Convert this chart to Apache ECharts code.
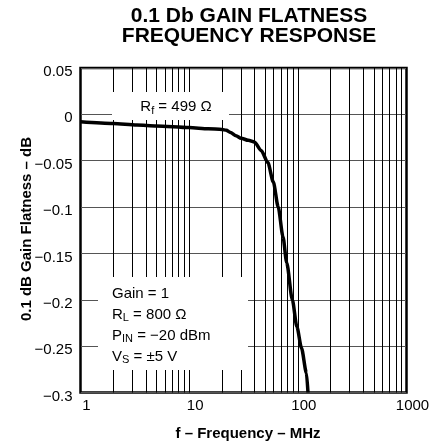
<!DOCTYPE html>
<html>
<head>
<meta charset="utf-8">
<script src="https://cdn.jsdelivr.net/npm/echarts@6/dist/echarts.min.js"></script>
<style>
html,body{margin:0;padding:0;background:#fff;}
#chart{width:440px;height:446px;}
</style>
</head>
<body>
<div id="chart"></div>
<script>
// ---- data ----
const freqMHz = [1, 2, 3.3, 5, 10, 15, 20, 22, 24, 27, 30, 35, 40, 46, 53, 59.5, 66, 73, 79, 89, 98, 108, 120, 124];
const gainDb  = [-0.008, -0.0098, -0.0115, -0.0125, -0.0143, -0.0155, -0.0163, -0.0172, -0.0195, -0.023, -0.0257, -0.028, -0.030, -0.039, -0.052, -0.073, -0.100, -0.132, -0.160, -0.200, -0.229, -0.252, -0.279, -0.300];
const xTicks = [1, 10, 100, 1000];
const xMinorGrid = [2, 3, 4, 5, 6, 7, 8, 9, 20, 30, 40, 50, 60, 70, 80, 90, 200, 300, 400, 500, 600, 700, 800, 900];
const yTicks = [0.05, 0, -0.05, -0.1, -0.15, -0.2, -0.25, -0.3];

const FONT = 'Liberation Sans, Arial, sans-serif';
const rich = {
  n: { fontFamily: FONT, fontSize: 15, fill: '#000', color: '#000' },
  s: { fontFamily: FONT, fontSize: 11, fill: '#000', color: '#000', padding: [7, 0, 0, 0] }
};

const chart = echarts.init(document.getElementById('chart'), null, { renderer: 'canvas' });
chart.setOption({
  animation: false,
  backgroundColor: '#fff',
  title: {
    text: '0.1 Db GAIN FLATNESS\nFREQUENCY RESPONSE',
    left: 249, top: 6, textAlign: 'center', padding: 0,
    textStyle: { fontFamily: FONT, fontSize: 21, fontWeight: 'bold', color: '#000', lineHeight: 20 }
  },
  grid: {
    left: 80.5, right: 33.5, top: 68, bottom: 52.7,
    show: true, borderColor: '#000', borderWidth: 2.5, backgroundColor: 'transparent'
  },
  xAxis: {
    type: 'log', logBase: 10,
    min: xTicks[0], max: xTicks[xTicks.length - 1],
    name: 'f – Frequency – MHz', nameLocation: 'middle', nameGap: 33.5,
    nameTextStyle: { fontFamily: FONT, fontSize: 15, fontWeight: 'bold', color: '#000', padding: [0, 0, 0, 9] },
    axisLine: { show: false },
    axisTick: { show: false },
    axisLabel: {
      fontFamily: FONT, fontSize: 15, color: '#000', margin: 6, padding: [0, 0, 0, 12],
      formatter: v => String(xTicks.find(t => Math.abs(t - v) / t < 1e-6) ?? Math.round(v))
    },
    splitLine: { show: true, lineStyle: { color: '#000', width: 1 } }
  },
  yAxis: {
    type: 'value',
    min: yTicks[yTicks.length - 1], max: yTicks[0], interval: 0.05,
    axisLine: { show: false },
    axisTick: { show: false },
    axisLabel: {
      fontFamily: FONT, fontSize: 15, color: '#000', margin: 8,
      verticalAlign: 'top', lineHeight: 8,
      formatter: v => { const r = Math.round(v * 100) / 100; return r < 0 ? '\u2212' + String(-r) : String(r); }
    },
    splitLine: { show: true, lineStyle: { color: '#555', width: 1.2 } }
  },
  series: [{
    type: 'line',
    data: freqMHz.map((f, i) => [f, gainDb[i]]),
    showSymbol: false,
    smooth: 0.25,
    smoothMonotone: 'x',
    lineStyle: { color: '#000', width: 3.5 },
    z: 5,
    markLine: {
      silent: true,
      symbol: ['none', 'none'],
      label: { show: false },
      emphasis: { disabled: true },
      lineStyle: { color: '#000', width: 1, type: 'solid' },
      data: xMinorGrid.map(v => ({ xAxis: v }))
    }
  }],
  graphic: [
    { type: 'text', z: 50, x: 27, y: 229, rotation: Math.PI / 2,
      style: { text: '0.1 dB Gain Flatness – dB', fontFamily: FONT, fontSize: 15, fontWeight: 'bold', fill: '#000', align: 'center', verticalAlign: 'middle' } },
    { type: 'rect', z: 100, shape: { x: 112, y: 92, width: 117, height: 28 }, style: { fill: '#fff' } },
    { type: 'rect', z: 100, shape: { x: 98, y: 277, width: 150, height: 93 }, style: { fill: '#fff' } },
    { type: 'text', z: 101, x: 176, y: 107, style: { text: '{n|R}{s|f}{n| = 499 Ω}', align: 'center', verticalAlign: 'middle', rich: rich } },
    { type: 'text', z: 101, x: 112, y: 293.5, style: { text: '{n|Gain = 1}', align: 'left', verticalAlign: 'middle', rich: rich } },
    { type: 'text', z: 101, x: 112, y: 314.5, style: { text: '{n|R}{s|L}{n| = 800 Ω}', align: 'left', verticalAlign: 'middle', rich: rich } },
    { type: 'text', z: 101, x: 112, y: 335.5, style: { text: '{n|P}{s|IN}{n| = \u221220 dBm}', align: 'left', verticalAlign: 'middle', rich: rich } },
    { type: 'text', z: 101, x: 112, y: 356.5, style: { text: '{n|V}{s|S}{n| = ±5 V}', align: 'left', verticalAlign: 'middle', rich: rich } }
  ]
});
</script>
</body>
</html>
